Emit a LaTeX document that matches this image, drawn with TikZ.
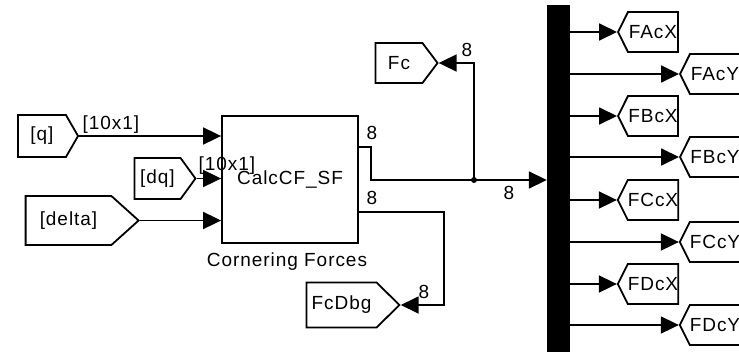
\documentclass[tikz,border=0pt]{standalone}
\usepackage{fontspec}
\setmainfont[LetterSpace=5]{Liberation Sans}
\usepackage{tikz}
\usetikzlibrary{arrows.meta,positioning,shapes.symbols,calc}

\begin{document}
\begin{tikzpicture}[x=1pt,y=-1pt,font=\fontsize{19}{22}\selectfont,
  wire/.style={line width=1.8pt},
  sig/.style={wire,-{Triangle[length=18pt,width=17pt]}},
  gotor/.style={draw,line width=1.8pt,shape=signal,signal to=east,inner sep=0pt},
  gotol/.style={draw,line width=1.8pt,shape=signal,signal to=west,inner sep=0pt,
    minimum width=60pt,minimum height=40pt,signal pointer angle=127},
  lbl/.style={inner sep=0pt}]
\useasboundingbox (0,0) rectangle (739,354);

% From blocks
\node[gotor,minimum width=60pt,minimum height=42pt,signal pointer angle=120] (q) at (42,136) {[q]};
\node[gotor,minimum width=61pt,minimum height=41pt,signal pointer angle=108] (dq) at (157.5,178.5) {[dq]};
\node[gotor,minimum width=113pt,minimum height=49pt,signal pointer angle=84] (delta) at (68.5,220.5) {[delta]};

% Subsystem
\node[draw,line width=1.8pt,minimum width=136pt,minimum height=127pt,inner sep=0pt] (calc) at (290,179.5) {CalcCF\_SF};
\node[lbl] (cflbl) at ($(calc.south)+(-3,18)$) {Cornering Forces};
\coordinate (out1) at ($(calc.north east)!0.25!(calc.south east)$);
\coordinate (out2) at ($(calc.north east)!0.75!(calc.south east)$);

% Goto blocks
\node[gotor,minimum width=62pt,minimum height=40pt,signal pointer angle=106] (Fc) at (399,63) {Fc};
\node[gotor,minimum width=93pt,minimum height=45pt,signal pointer angle=89] (FcDbg) at (341.5,305) {FcDbg};

% Demux bar
\node[fill,minimum width=23pt,minimum height=347pt,inner sep=0pt] (bus) at (558.5,178.5) {};

% Inputs
\draw[sig] (q.east) -- (q.east -| calc.west);
\draw[sig] (dq.east) -- (dq.east -| calc.west);
\draw[sig] (delta.east) -- (delta.east -| calc.west);
\node[lbl] (lq) at (111,125) {[10x1]};
\node[lbl] (ldq) at (227,166) {[10x1]};

% Outputs
\coordinate (jn) at (474,180);
\draw[wire] (out1) -- ++(12,0) |- (jn);
\draw[sig] (jn) -- (jn -| bus.west);
\draw[sig] (jn) |- (Fc.east);
\fill (jn) circle (3);
\draw[sig] (out2) -- ++(85,0) |- (FcDbg.east);
\node[lbl] (lo1) at (372,133) {8};
\node[lbl] (lo2) at (372,198) {8};
\node[lbl] (lfc) at (467,50) {8};
\node[lbl] (lbus) at (509,193) {8};
\node[lbl] (ldbg) at (424,292) {8};

% Demux outputs
\foreach \nm/\yy in {FAcX/32,FBcX/116,FCcX/200,FDcX/284} {
  \node[gotol] (\nm) at (653,\yy) {\nm};
  \draw[sig] (bus.east |- \nm.west) -- (\nm.west);
}
\foreach \nm/\yy in {FAcY/74,FBcY/157,FCcY/242,FDcY/325} {
  \node[gotol] (\nm) at (715,\yy) {\nm};
  \draw[sig] (bus.east |- \nm.west) -- (\nm.west);
}
\end{tikzpicture}
\end{document}
